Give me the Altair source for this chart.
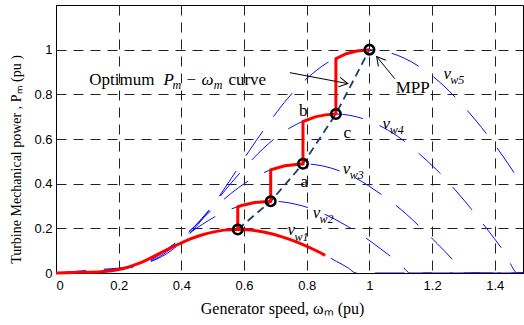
import altair as alt
import pandas as pd

# ---- power curves (generator speed pu, power pu) ----
vw1_w = [0, 0.071, 0.143, 0.215, 0.251, 0.287, 0.322, 0.358, 0.394, 0.429, 0.465, 0.501, 0.537, 0.58, 0.608, 0.644, 0.680, 0.716, 0.752, 0.788, 0.824, 0.859, 0.895, 0.931, 0.957, 1.5]
vw1_p = [0, 0.003, 0.006, 0.020, 0.036, 0.057, 0.081, 0.107, 0.131, 0.153, 0.170, 0.183, 0.192, 0.195, 0.194, 0.188, 0.178, 0.164, 0.147, 0.127, 0.104, 0.079, 0.052, 0.024, 0, 0]
vw2_w = [0, 0.084, 0.169, 0.253, 0.296, 0.338, 0.381, 0.423, 0.465, 0.507, 0.549, 0.592, 0.634, 0.685, 0.719, 0.761, 0.804, 0.846, 0.888, 0.930, 0.973, 1.014, 1.057, 1.099, 1.130, 1.5]
vw2_p = [0, 0.005, 0.010, 0.033, 0.059, 0.093, 0.134, 0.176, 0.216, 0.252, 0.281, 0.302, 0.316, 0.321, 0.319, 0.309, 0.293, 0.270, 0.242, 0.209, 0.172, 0.131, 0.086, 0.040, 0, 0]
vw3_w = [0, 0.097, 0.195, 0.292, 0.340, 0.389, 0.438, 0.486, 0.535, 0.583, 0.632, 0.681, 0.730, 0.788, 0.827, 0.875, 0.924, 0.973, 1.021, 1.070, 1.119, 1.167, 1.216, 1.265, 1.300, 1.5]
vw3_p = [0, 0.007, 0.015, 0.050, 0.090, 0.142, 0.204, 0.268, 0.329, 0.383, 0.427, 0.460, 0.480, 0.489, 0.485, 0.471, 0.446, 0.412, 0.368, 0.319, 0.262, 0.199, 0.132, 0.060, 0, 0]
vw4_w = [0, 0.110, 0.221, 0.330, 0.386, 0.441, 0.497, 0.551, 0.606, 0.661, 0.716, 0.772, 0.827, 0.893, 0.937, 0.992, 1.047, 1.103, 1.157, 1.213, 1.268, 1.323, 1.378, 1.433, 1.473, 1.5]
vw4_p = [0, 0.010, 0.022, 0.073, 0.131, 0.206, 0.297, 0.390, 0.478, 0.557, 0.622, 0.669, 0.699, 0.712, 0.706, 0.685, 0.649, 0.599, 0.536, 0.464, 0.381, 0.290, 0.192, 0.088, 0, 0]
vw5_w = [0, 0.123, 0.247, 0.370, 0.432, 0.494, 0.556, 0.617, 0.679, 0.740, 0.802, 0.864, 0.926, 1.0, 1.049, 1.111, 1.173, 1.235, 1.296, 1.358, 1.420, 1.481, 1.543, 1.605, 1.650]
vw5_p = [0, 0.014, 0.031, 0.103, 0.184, 0.290, 0.417, 0.548, 0.672, 0.783, 0.873, 0.940, 0.982, 1.0, 0.992, 0.962, 0.911, 0.841, 0.753, 0.651, 0.535, 0.407, 0.269, 0.123, 0]

# red tracking path: along vw1 up to 0.86 pu, then the staircase
red1_w = vw1_w[:22]
red1_p = vw1_p[:22]
stair_w = [0.58, 0.58, 0.592, 0.634, 0.685, 0.685, 0.730, 0.788, 0.788, 0.827, 0.860, 0.893, 0.893, 0.926, 0.960, 1.0]
stair_p = [0.195, 0.296, 0.302, 0.316, 0.321, 0.462, 0.480, 0.489, 0.678, 0.699, 0.708, 0.712, 0.960, 0.982, 0.994, 1.0]

# optimum operating points (circles) and optimum curve
opt_w = [0.58, 0.685, 0.788, 0.893, 1.0]
opt_p = [0.195, 0.321, 0.489, 0.712, 1.0]

x_ticks = [0, 0.2, 0.4, 0.6, 0.8, 1.0, 1.2, 1.4]
y_ticks = [0, 0.2, 0.4, 0.6, 0.8, 1.0]

# ---- tables ----
curves = []
for name, ws, ps in [("vw1", vw1_w, vw1_p), ("vw2", vw2_w, vw2_p), ("vw3", vw3_w, vw3_p),
                     ("vw4", vw4_w, vw4_p), ("vw5", vw5_w, vw5_p)]:
    for i, (w, p) in enumerate(zip(ws, ps)):
        curves.append({"curve": name, "w": w, "p": p, "o": i})
curves_df = pd.DataFrame(curves)
red1_df = pd.DataFrame({"w": red1_w, "p": red1_p, "o": range(len(red1_w))})
stair_df = pd.DataFrame({"w": stair_w, "p": stair_p, "o": range(len(stair_w))})
opt_df = pd.DataFrame({"w": opt_w, "p": opt_p, "o": range(len(opt_w))})

# annotation texts
plain_df = pd.DataFrame({
    "t": ["Optimum", "\u2212", "curve", "MPP", "a", "b", "c"],
    "w": [0.106, 0.416, 0.550, 1.084, 0.792, 0.789, 0.929],
    "p": [0.843, 0.843, 0.843, 0.808, 0.383, 0.705, 0.606],
    "al": ["left", "left", "left", "left", "center", "center", "center"],
})
ital_df = pd.DataFrame({
    "t": ["P", "\u03c9", "v", "v", "v", "v", "v"],
    "w": [0.343, 0.464, 1.236, 1.042, 0.915, 0.819, 0.739],
    "p": [0.843, 0.843, 0.870, 0.646, 0.445, 0.248, 0.168],
})
sub_df = pd.DataFrame({
    "t": ["m", "m", "w5", "w4", "w3", "w2", "w1"],
    "w": [0.372, 0.503, 1.258, 1.065, 0.937, 0.841, 0.761],
    "p": [0.826, 0.826, 0.848, 0.624, 0.423, 0.226, 0.145],
})
arrow_lines = pd.DataFrame({
    "a": ["opt", "opt", "mpp", "mpp"],
    "w": [0.746, 0.931, 1.081, 1.023],
    "p": [0.897, 0.848, 0.870, 0.969],
})
arrow_heads = pd.DataFrame({"w": [0.931, 1.023], "p": [0.848, 0.969], "ang": [10.7, 230.7]})

SERIF = "Liberation Serif"
SANS = "Liberation Sans"

xs = alt.Scale(domain=[0, 1.49], nice=False, zero=False)
ys = alt.Scale(domain=[0, 1.2], nice=False, zero=False)

x_axis = alt.Axis(values=x_ticks, format="~g", grid=True, ticks=False, labelPadding=6,
                  labelFont=SANS, labelFontSize=13, labelColor="black",
                  titleFont=SERIF, titleFontSize=16, titleFontWeight="normal", titleColor="black",
                  titleX=226, titleY=40, titleBaseline="alphabetic",
                  domainColor="black", gridColor="#222222", gridDash=[10, 7], gridWidth=1, gridOpacity=1)
y_axis = alt.Axis(values=y_ticks, format="~g", grid=True, ticks=False, labelPadding=4,
                  labelFont=SANS, labelFontSize=13, labelColor="black",
                  titleFont=SERIF, titleFontSize=14, titleFontWeight="normal", titleColor="black",
                  titleX=-36, titleY=154, titleBaseline="alphabetic",
                  domainColor="black", gridColor="#222222", gridDash=[10, 7], gridWidth=1, gridOpacity=1)

X = alt.X("w:Q", scale=xs, axis=x_axis, title="Generator speed, \u03c9\u2098 (pu)")
Y = alt.Y("p:Q", scale=ys, axis=y_axis, title="Turbine Mechanical power , P\u2098 (pu )")
Xn = alt.X("w:Q", scale=xs)
Yn = alt.Y("p:Q", scale=ys)

blue = alt.Chart(curves_df).mark_line(color="#0a0aff", strokeWidth=1, strokeDash=[30, 18],
                                      clip=True, interpolate="monotone").encode(
    x=X, y=Y, detail="curve:N", order="o:Q")
opt_line = alt.Chart(opt_df).mark_line(color="#1c3d6e", strokeWidth=1.8, strokeDash=[8, 5]).encode(
    x=Xn, y=Yn, order="o:Q")
red1 = alt.Chart(red1_df).mark_line(color="#ff0000", strokeWidth=3, interpolate="monotone").encode(
    x=Xn, y=Yn, order="o:Q")
stair = alt.Chart(stair_df).mark_line(color="#ff0000", strokeWidth=3).encode(
    x=Xn, y=Yn, order="o:Q")
circles = alt.Chart(opt_df).mark_point(shape="circle", filled=False, size=90, color="black",
                                       strokeWidth=2.6, opacity=1).encode(x=Xn, y=Yn)
arr_l = alt.Chart(arrow_lines).mark_line(color="black", strokeWidth=1).encode(
    x=Xn, y=Yn, detail="a:N")
arr_h = alt.Chart(arrow_heads).mark_point(shape="M -1 -0.55 L 0 0 L -1 0.55", filled=False,
                                          size=300, color="black", strokeWidth=1, opacity=1).encode(
    x=Xn, y=Yn, angle=alt.Angle("ang:Q", scale=None))

plain_left = alt.Chart(plain_df[plain_df.al == "left"]).mark_text(
    font=SERIF, fontSize=17, align="left", baseline="alphabetic", color="black").encode(
    x=Xn, y=Yn, text="t:N")
plain_center = alt.Chart(plain_df[plain_df.al == "center"]).mark_text(
    font=SERIF, fontSize=17, align="center", baseline="alphabetic", color="black").encode(
    x=Xn, y=Yn, text="t:N")
ital = alt.Chart(ital_df).mark_text(
    font=SERIF, fontSize=17, fontStyle="italic", align="left", baseline="alphabetic", color="black").encode(
    x=Xn, y=Yn, text="t:N")
subs = alt.Chart(sub_df).mark_text(
    font=SERIF, fontSize=12, fontStyle="italic", align="left", baseline="alphabetic", color="black").encode(
    x=Xn, y=Yn, text="t:N")

chart = alt.layer(blue, opt_line, red1, stair, circles, arr_l, arr_h,
                  plain_left, plain_center, ital, subs).properties(
    width=467, height=268,
    autosize=alt.AutoSizeParams(type="none"),
    padding={"left": 56, "top": 5, "right": 1, "bottom": 52},
    background="white",
).configure_view(stroke="black", strokeWidth=1)

chart.save("out.html", embed_options={"renderer": "svg", "actions": False})
